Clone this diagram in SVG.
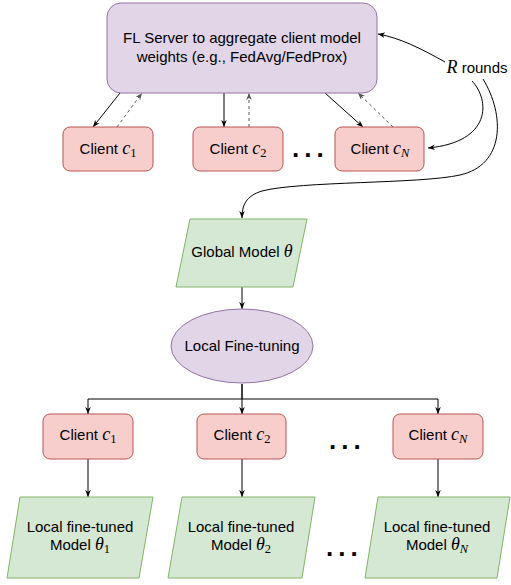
<svg xmlns="http://www.w3.org/2000/svg" width="511" height="585" viewBox="0 0 511 585">
<style>
.t{font-family:"Liberation Sans",Arial,Helvetica,sans-serif;font-size:15px;fill:#000;text-anchor:middle}
.m{font-family:"Liberation Serif","Times New Roman",serif;font-style:italic;font-size:18px}
.s{font-family:"Liberation Serif","Times New Roman",serif;font-style:normal;font-size:12.5px}
.sn{font-family:"Liberation Serif","Times New Roman",serif;font-style:italic;font-size:12.5px}
.client{fill:#f8cecc;stroke:#b85450;stroke-width:1}
.purple{fill:#e1d5e7;stroke:#9673a6;stroke-width:1}
.green{fill:#d5e8d4;stroke:#82b366;stroke-width:1}
.e{fill:none;stroke:#000;stroke-width:1}
.d{fill:none;stroke:#555;stroke-width:1;stroke-dasharray:3 3}
.dots{font-family:"Liberation Sans",Arial,sans-serif;font-weight:bold;font-size:26px;letter-spacing:5px;fill:#000}
</style>
<defs>
<marker id="a" viewBox="0 0 10 8" refX="10" refY="4" markerWidth="7" markerHeight="6" markerUnits="userSpaceOnUse" orient="auto">
<path d="M0,0 L10,4 L0,8 L3,4 z" fill="#000"/>
</marker>
<marker id="ad" viewBox="0 0 10 8" refX="10" refY="4" markerWidth="7" markerHeight="6" markerUnits="userSpaceOnUse" orient="auto">
<path d="M0,0 L10,4 L0,8 L3,4 z" fill="#555"/>
</marker>
</defs>

<g id="connectors">
<path class="e" d="M120,93 L93,127" marker-end="url(#a)"/>
<path class="d" d="M117,127 L142,93" marker-end="url(#ad)"/>
<path class="e" d="M224,93 L224,127" marker-end="url(#a)"/>
<path class="d" d="M249,127 L249,93" marker-end="url(#ad)"/>
<path class="e" d="M325,93 L363,127" marker-end="url(#a)"/>
<path class="d" d="M393,127 L358,93" marker-end="url(#ad)"/>
<path class="e" d="M445,62 C420,48 400,38 378,34" marker-end="url(#a)"/>
<path class="e" d="M472,81 C490,100 492,142 428,148" marker-end="url(#a)"/>
<path class="e" d="M483,79 C505,115 505,165 460,175 C420,184 300,181 262,191 C246,196 242,205 242,218" marker-end="url(#a)"/>
<path class="e" d="M242,287 L242,309" marker-end="url(#a)"/>
<path class="e" d="M242,384 V399 H88 V414" marker-end="url(#a)"/>
<path class="e" d="M242,384 V414" marker-end="url(#a)"/>
<path class="e" d="M242,399 H438 V414" marker-end="url(#a)"/>
<path class="e" d="M88,459 V497" marker-end="url(#a)"/>
<path class="e" d="M242,459 V497" marker-end="url(#a)"/>
<path class="e" d="M438,459 V497" marker-end="url(#a)"/>
</g>

<g id="server">
<rect class="purple" x="107" y="3" width="270" height="90" rx="14"/>
<text class="t" x="242" y="43">FL Server to aggregate client model</text>
<text class="t" x="242" y="62">weights (e.g., FedAvg/FedProx)</text>
</g>

<g id="rounds-label">
<text class="t" x="477" y="73"><tspan class="m">R</tspan> rounds</text>
</g>

<g id="client-top-1">
<rect class="client" x="63" y="127" width="90" height="44" rx="7"/>
<text class="t" x="108" y="154">Client <tspan class="m">c</tspan><tspan class="s" dy="3">1</tspan></text>
</g>
<g id="client-top-2">
<rect class="client" x="193" y="127" width="90" height="44" rx="7"/>
<text class="t" x="238" y="154">Client <tspan class="m">c</tspan><tspan class="s" dy="3">2</tspan></text>
</g>
<g id="client-top-n">
<rect class="client" x="335" y="127" width="89" height="44" rx="7"/>
<text class="t" x="380" y="154">Client <tspan class="m">c</tspan><tspan class="sn" dy="3">N</tspan></text>
</g>
<g id="dots-top">
<text class="dots" x="292" y="157">...</text>
</g>

<g id="global-model">
<polygon class="green" points="190,219 307,219 293,287 176,287"/>
<text class="t" x="242" y="257">Global Model <tspan class="m">θ</tspan></text>
</g>

<g id="local-finetuning">
<ellipse class="purple" cx="242" cy="346" rx="71" ry="37"/>
<text class="t" x="242" y="351">Local Fine-tuning</text>
</g>

<g id="client-bot-1">
<rect class="client" x="43" y="414" width="90" height="45" rx="7"/>
<text class="t" x="88" y="440">Client <tspan class="m">c</tspan><tspan class="s" dy="3">1</tspan></text>
</g>
<g id="client-bot-2">
<rect class="client" x="197" y="414" width="89" height="45" rx="7"/>
<text class="t" x="242" y="440">Client <tspan class="m">c</tspan><tspan class="s" dy="3">2</tspan></text>
</g>
<g id="client-bot-n">
<rect class="client" x="393" y="414" width="90" height="45" rx="7"/>
<text class="t" x="438" y="440">Client <tspan class="m">c</tspan><tspan class="sn" dy="3">N</tspan></text>
</g>
<g id="dots-mid">
<text class="dots" x="329" y="449">...</text>
</g>

<g id="local-model-1">
<polygon class="green" points="20,497 153,497 139,578 7,578"/>
<text class="t" x="80" y="532">Local fine-tuned</text>
<text class="t" x="80" y="550">Model <tspan class="m">θ</tspan><tspan class="s" dy="3">1</tspan></text>
</g>
<g id="local-model-2">
<polygon class="green" points="182,497 315,497 302,578 168,578"/>
<text class="t" x="241" y="532">Local fine-tuned</text>
<text class="t" x="241" y="550">Model <tspan class="m">θ</tspan><tspan class="s" dy="3">2</tspan></text>
</g>
<g id="local-model-n">
<polygon class="green" points="378,497 510,497 497,578 365,578"/>
<text class="t" x="437" y="532">Local fine-tuned</text>
<text class="t" x="437" y="550">Model <tspan class="m">θ</tspan><tspan class="sn" dy="3">N</tspan></text>
</g>
<g id="dots-bot">
<text class="dots" x="326" y="556">...</text>
</g>
</svg>
